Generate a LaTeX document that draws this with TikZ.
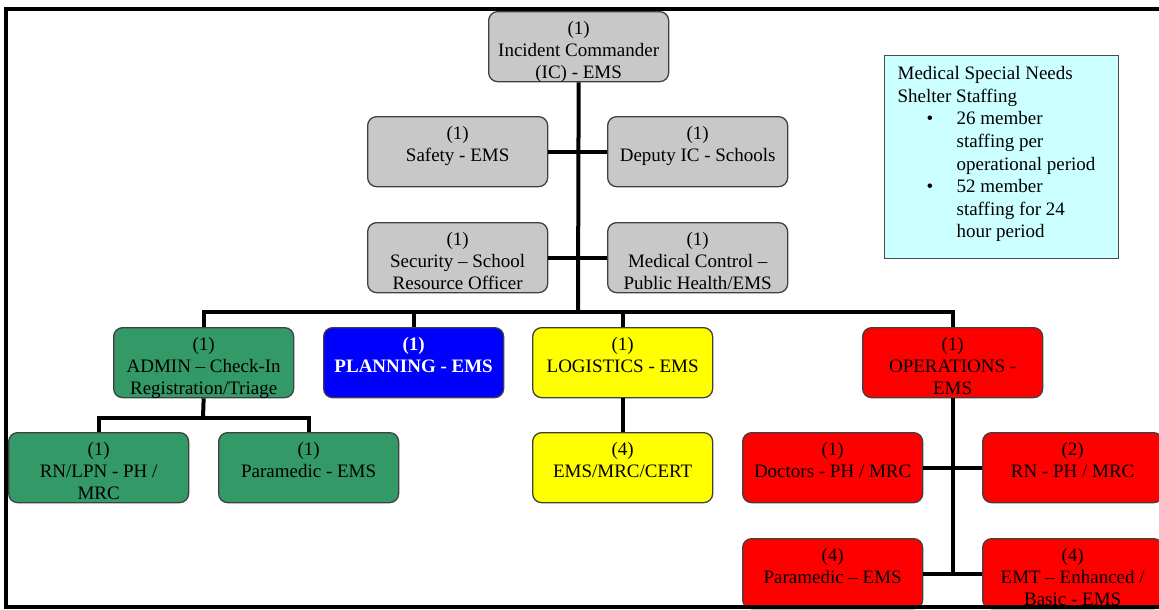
\documentclass[tikz,border=0pt]{standalone}
\usepackage{fontspec}
\setmainfont{Liberation Serif}
\definecolor{boxgray}{RGB}{200,200,200}
\definecolor{boxgreen}{RGB}{51,153,102}
\definecolor{boxblue}{RGB}{0,0,255}
\definecolor{boxyellow}{RGB}{255,255,0}
\definecolor{boxred}{RGB}{255,0,0}
\definecolor{notecyan}{RGB}{204,255,255}
\newcommand{\boxtxt}[1]{\parbox[t][70pt][t]{180pt}{\centering\fontsize{19}{22}\selectfont\rule{0pt}{22.5pt}#1}}
\begin{document}
\begin{tikzpicture}[x=1pt,y=-1pt,
  box/.style={draw=black!75, line width=1.3pt, rounded corners=9pt, inner sep=0pt, anchor=north west},
  gbox/.style={box, fill=boxgray},
  grbox/.style={box, fill=boxgreen},
  blbox/.style={box, fill=boxblue, text=white, font=\bfseries},
  yebox/.style={box, fill=boxyellow},
  rdbox/.style={box, fill=boxred},
  note/.style={draw=black!70, line width=1.2pt, fill=notecyan, inner sep=0pt, anchor=north west},
  wire/.style={line width=4pt, black},
  frame/.style={line width=4pt, black}]
\useasboundingbox (0,0) rectangle (1159,610);

% nodes
\node[gbox] (ic) at (488,11) {\boxtxt{(1)\\Incident Commander\\(IC) - EMS}};
\node[gbox] (sf) at (367,116) {\boxtxt{(1)\\Safety - EMS}};
\node[gbox] (dp) at (607,116) {\boxtxt{(1)\\Deputy IC - Schools}};
\node[gbox] (sc) at (367,222) {\boxtxt{(1)\\Security -- School\\Resource Officer}};
\node[gbox] (mc) at (607,222) {\boxtxt{(1)\\Medical Control --\\Public Health/EMS}};

\node[grbox] (ad) at (113,327) {\boxtxt{(1)\\ADMIN -- Check-In\\Registration/Triage}};
\node[blbox] (pl) at (323,327) {\boxtxt{(1)\\PLANNING - EMS}};
\node[yebox] (lg) at (532,327) {\boxtxt{(1)\\LOGISTICS - EMS}};
\node[rdbox] (op) at (862,327) {\boxtxt{(1)\\OPERATIONS -\\EMS}};

\node[grbox] (rl) at (8,432) {\boxtxt{(1)\\RN/LPN - PH /\\MRC}};
\node[grbox] (pm) at (218,432) {\boxtxt{(1)\\Paramedic - EMS}};
\node[yebox] (em) at (532,432) {\boxtxt{(4)\\EMS/MRC/CERT}};
\node[rdbox] (dr) at (742,432) {\boxtxt{(1)\\Doctors - PH / MRC}};
\node[rdbox] (rn) at (982,432) {\boxtxt{(2)\\RN - PH / MRC}};
\node[rdbox] (pr) at (742,538) {\boxtxt{(4)\\Paramedic -- EMS}};
\node[rdbox] (et) at (982,538) {\boxtxt{(4)\\EMT -- Enhanced /\\Basic - EMS}};

\node[note] (nt) at (884,55) {\parbox[t][203pt][t]{234pt}{\raggedright\fontsize{19}{22.6}\selectfont\leftskip=13pt
  \rule{0pt}{24pt}Medical Special Needs\\
  Shelter Staffing\\
  \hspace*{29pt}\makebox[30pt][l]{\textbullet}26 member\\
  \hspace*{59pt}staffing per\\
  \hspace*{59pt}operational period\\
  \hspace*{29pt}\makebox[30pt][l]{\textbullet}52 member\\
  \hspace*{59pt}staffing for 24\\
  \hspace*{59pt}hour period}};

% connectors
\coordinate (bus) at (578,312);
\coordinate (adb) at (203,418);
\draw[wire] (ic.south) -- (bus);
\draw[wire] (sf.east) -- (dp.west);
\draw[wire] (sc.east) -- (mc.west);
\draw[wire] (ad.north) |- (bus) -| (op.north);
\draw[wire] (pl.north) -- (pl.north |- bus);
\draw[wire] (lg.north) -- (lg.north |- bus);
\draw[wire] (ad.south) -- (adb);
\draw[wire] (rl.north) |- (adb) -| (pm.north);
\draw[wire] (lg.south) -- (em.north);
\draw[wire] (dr.east) -- (rn.west);
\draw[wire] (pr.east) -- (et.west);
\draw[wire] (op.south) -- (op.south |- pr.east);

% page frame
\draw[frame] (1159,9.5) -- (6,9.5) -- (6,607) -- (1159,607);
\end{tikzpicture}
\end{document}
